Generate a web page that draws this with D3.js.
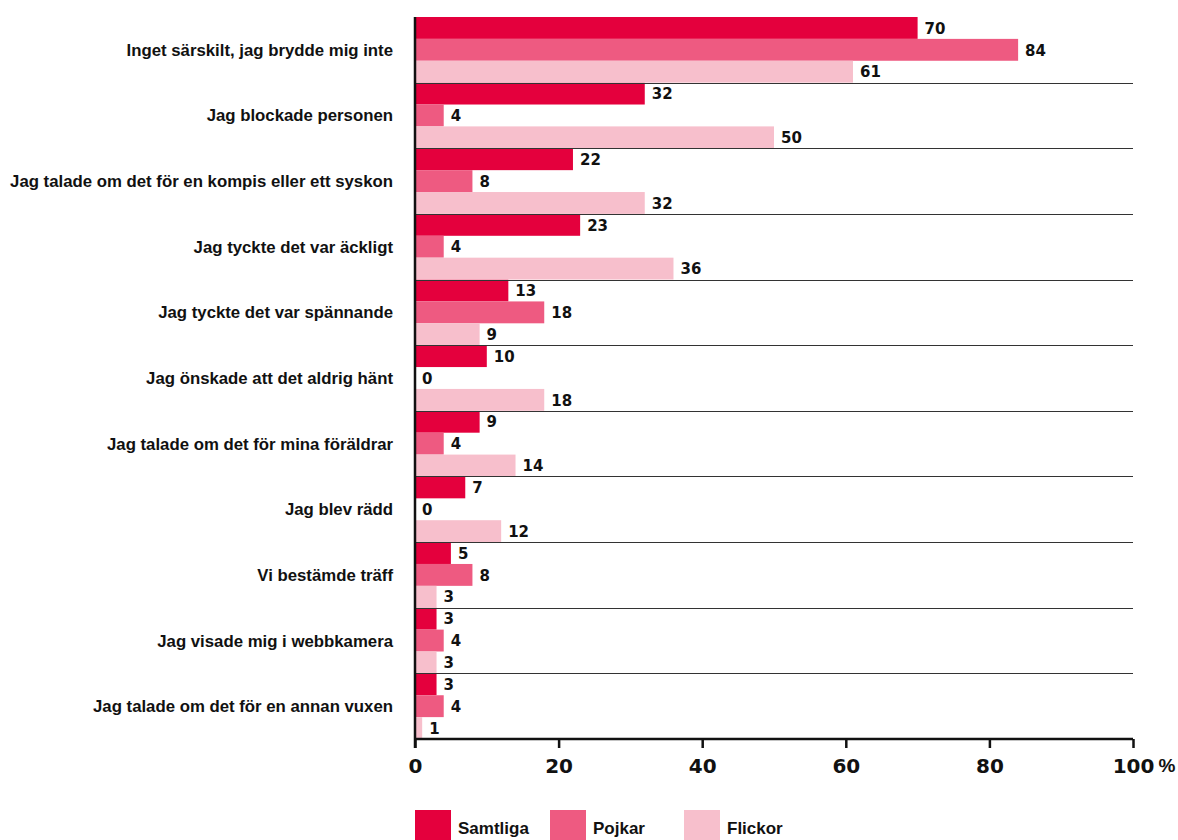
<!DOCTYPE html>
<html><head><meta charset="utf-8">
<script src="https://cdn.jsdelivr.net/npm/d3@7"></script>
<style>
body{margin:0;background:#fff;}
text{font-family:"DejaVu Sans",sans-serif;font-weight:bold;fill:#111;}
.lab{font-family:"Liberation Sans",Arial,sans-serif;}
</style></head>
<body>
<svg id="c" width="1178" height="840"></svg>
<script>
const categories = [
  "Inget särskilt, jag brydde mig inte",
  "Jag blockade personen",
  "Jag talade om det för en kompis eller ett syskon",
  "Jag tyckte det var äckligt",
  "Jag tyckte det var spännande",
  "Jag önskade att det aldrig hänt",
  "Jag talade om det för mina föräldrar",
  "Jag blev rädd",
  "Vi bestämde träff",
  "Jag visade mig i webbkamera",
  "Jag talade om det för en annan vuxen"
];
const seriesNames = ["Samtliga","Pojkar","Flickor"];
const samtliga = [70,32,22,23,13,10,9,7,5,3,3];
const pojkar   = [84,4,8,4,18,0,4,0,8,4,4];
const flickor  = [61,50,32,36,9,18,14,12,3,3,1];
const colors = ["#e4003d","#ee5a81","#f7bfcc"];
const xTicks = [0,20,40,60,80,100];

(function(){
const svg = d3.select("#c");
const mLeft = 415, mRight = 1133, mTop = 17, mBottom = 739;
const x = d3.scaleLinear().domain([0,100]).range([mLeft,mRight]);
const y = d3.scaleBand().domain(categories).range([mTop,mBottom]);
const ys = d3.scaleBand().domain(seriesNames).range([0,y.bandwidth()]);
const series = [samtliga,pojkar,flickor];

seriesNames.forEach((s,si)=>{
  const g = svg.append("g");
  g.selectAll("rect").data(categories).join("rect")
    .attr("x", x(0))
    .attr("y", (c)=>y(c)+ys(s))
    .attr("width", (c,i)=>x(series[si][i])-x(0))
    .attr("height", ys.bandwidth())
    .attr("fill", colors[si]);
  g.selectAll("text").data(categories).join("text")
    .attr("x", (c,i)=>x(series[si][i])+7)
    .attr("y", (c)=>y(c)+ys(s)+ys.bandwidth()/2)
    .attr("dy","0.38em")
    .style("font-size","15px")
    .text((c,i)=>series[si][i]);
});

svg.append("g").selectAll("line").data(categories.slice(1)).join("line")
  .attr("x1", x(0)).attr("x2", x(100))
  .attr("y1", c=>Math.round(y(c))+0.5).attr("y2", c=>Math.round(y(c))+0.5)
  .attr("stroke","#333").attr("stroke-width",1);

const cl = svg.append("g").selectAll("text").data(categories).join("text")
  .attr("class","lab")
  .attr("x", 393).attr("y", c=>y(c)+y.bandwidth()/2)
  .attr("dy","0.36em").attr("text-anchor","end")
  .style("font-size","15px")
  .text(c=>c);
let maxW = 0; cl.each(function(){ maxW = Math.max(maxW, this.getComputedTextLength()); });
cl.style("font-size", (15*383/maxW).toFixed(2)+"px");

const ax = svg.append("g").attr("transform",`translate(0,${mBottom})`)
  .call(d3.axisBottom(x).tickValues(xTicks).tickSize(9).tickPadding(11).tickFormat(d=>d));
ax.select(".domain").attr("stroke","#111").attr("stroke-width",2.5).attr("d",`M${mLeft},0H${mRight}`);
ax.selectAll(".tick line").attr("stroke","#111").attr("stroke-width",2.5);
ax.selectAll(".tick text").style("font-size","20px").attr("fill","#111")
  .style("font-family","'DejaVu Sans',sans-serif").style("font-weight","bold");
ax.selectAll(".tick").filter(d=>d===100).append("text")
  .attr("class","lab")
  .attr("x", 25).attr("y", 20).attr("dy","0.71em").attr("fill","#111")
  .style("font-size","19px").attr("text-anchor","start").text("%");

svg.append("line").attr("x1",mLeft).attr("x2",mLeft).attr("y1",mTop).attr("y2",mBottom+9)
  .attr("stroke","#111").attr("stroke-width",2.5);

const lx = [415,550,684];
const lg = svg.append("g");
seriesNames.forEach((s,i)=>{
  lg.append("rect").attr("x",lx[i]).attr("y",810).attr("width",36).attr("height",30).attr("fill",colors[i]);
  lg.append("text").attr("class","lab").attr("x",lx[i]+43).attr("y",834)
    .style("font-size","17px").text(s);
});
})();
</script>
</body></html>
